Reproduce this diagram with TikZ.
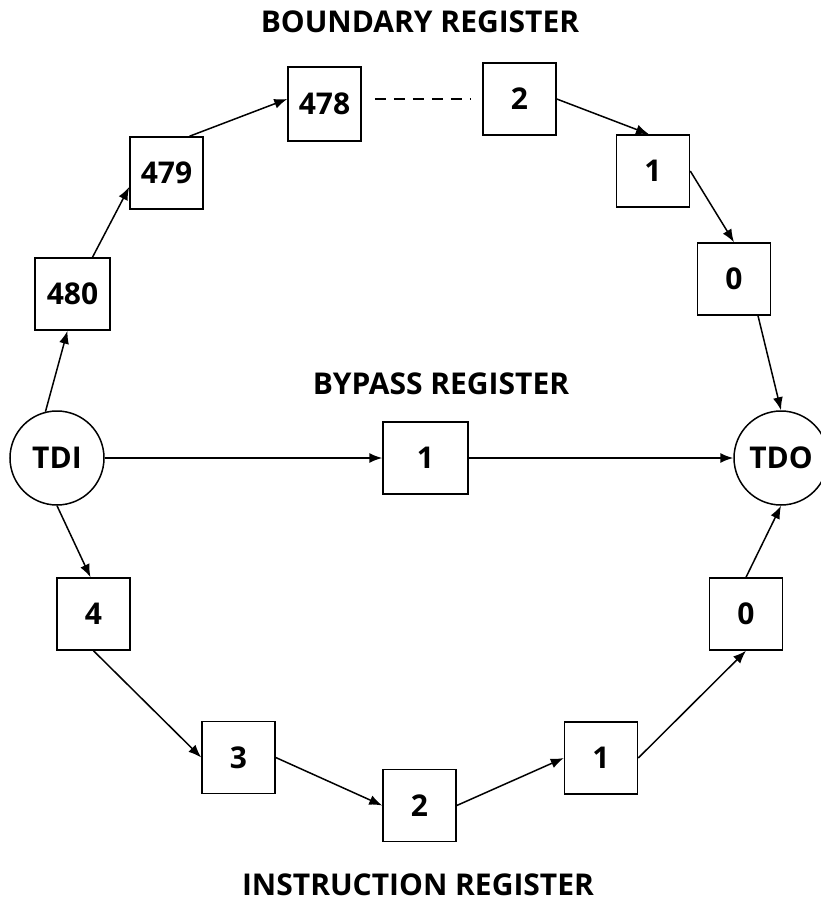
\documentclass[tikz,border=0pt]{standalone}
\usepackage{fontspec}
\setmainfont{Open Sans}
\usetikzlibrary{arrows.meta,calc}
\begin{document}
\begin{tikzpicture}[x=1pt,y=-1pt,
  every node/.style={font=\fontsize{30}{36}\selectfont\bfseries},
  reg/.style={draw,line width=1.5pt,minimum width=73pt,minimum height=72pt,inner sep=0pt},
  pin/.style={draw,circle,line width=1.5pt,minimum size=94pt,inner sep=0pt},
  title/.style={inner sep=0pt,anchor=base},
  link/.style={line width=1.5pt,-{Latex[length=13pt,width=10pt]}}
]
\useasboundingbox (0,0) rectangle (820,901);
\node[title] (tb) at (420,33) {BOUNDARY REGISTER};
\node[title] (tp) at (441,394) {BYPASS REGISTER};
\node[title] (ti) at (418,895) {INSTRUCTION REGISTER};

\node[reg,minimum width=75pt] (b480) at (72.5,294) {480};
\node[reg] (b479) at (166.5,173) {479};
\node[reg,minimum height=74pt] (b478) at (324.5,104) {478};
\node[reg] (b2) at (519.5,99) {2};
\node[reg] (b1) at (653,171) {1};
\node[reg] (b0) at (734,279) {0};

\node[pin] (tdi) at (57,458) {TDI};
\node[pin] (tdo) at (781,458) {TDO};
\node[reg,minimum width=85pt] (bp) at (425.5,458) {1};

\node[reg] (i4) at (93.5,614) {4};
\node[reg] (i3) at (238.5,757.5) {3};
\node[reg] (i2) at (419.5,805.5) {2};
\node[reg] (i1) at (601,758) {1};
\node[reg] (i0) at (746,614) {0};

% boundary chain
\draw[link] (tdi.104) -- ([xshift=-5pt]b480.south);
\draw[link] ([xshift=20pt]b480.north) -- ([yshift=-14pt]b479.west);
\draw[link] ([xshift=23pt]b479.north) -- ([yshift=5pt]b478.west);
\draw[line width=1.5pt,dash pattern=on 11pt off 8pt] ([xshift=13pt,yshift=5pt]b478.east) -- ([xshift=-11pt]b2.west);
\draw[link] (b2.east) -- ([xshift=-4pt]b1.north);
\draw[link] (b1.east) -- (b0.north);
\draw[link] ([xshift=24pt]b0.south) -- (tdo.north);

% bypass
\draw[link] (tdi.east) -- (bp.west);
\draw[link] (bp.east) -- (tdo.west);

% instruction chain
\draw[link] (tdi.south) -- ([xshift=-3pt]i4.north);
\draw[link] (i4.south) -- (i3.west);
\draw[link] (i3.east) -- (i2.west);
\draw[link] (i2.east) -- (i1.west);
\draw[link] (i1.east) -- (i0.south);
\draw[link] (i0.north) -- (tdo.south);
\end{tikzpicture}
\end{document}
